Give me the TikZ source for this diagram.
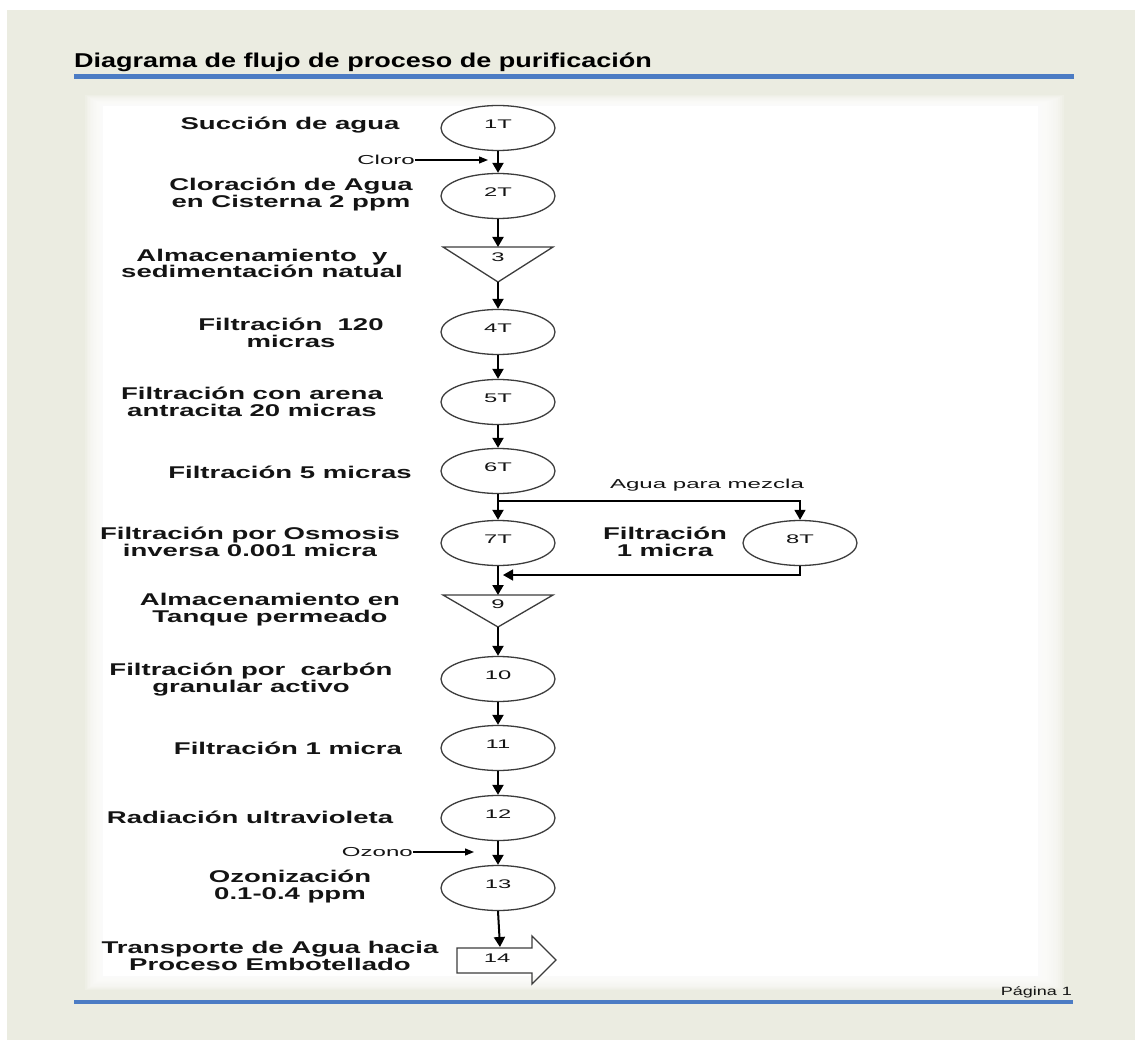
\documentclass[tikz,border=0pt]{standalone}
\usepackage{fontspec}
\setmainfont{Liberation Sans}
\newfontfamily\titlefont[FakeStretch=1.35]{Liberation Sans}
\newfontfamily\stepfont[FakeStretch=1.62]{Liberation Sans}
\newfontfamily\notefont[FakeStretch=1.85]{Liberation Sans}
\newfontfamily\numfont[FakeStretch=1.9]{Liberation Sans}
\newfontfamily\pagefont[FakeStretch=1.5]{Liberation Sans}
\usetikzlibrary{arrows.meta,shapes.geometric}

\definecolor{pagebg}{RGB}{235,236,225}
\definecolor{rulebl}{RGB}{76,124,196}
\definecolor{ink}{RGB}{20,20,20}
\definecolor{shapeln}{RGB}{60,60,60}

\tikzset{
  proc/.style={ellipse, draw=shapeln, line width=1.3pt, minimum width=114pt,
    minimum height=45pt, inner sep=0pt},
  numlbl/.style={font=\numfont\fontsize{12.5}{13}\selectfont, text=ink, inner sep=0pt},
  stepl/.style={align=center, font=\stepfont\bfseries\fontsize{17}{16.8}\selectfont,
    text=ink, inner sep=0pt},
  note/.style={font=\notefont\fontsize{13}{14}\selectfont, text=ink, inner sep=0pt},
  flow/.style={draw=black, line width=2pt, -{Triangle[length=10pt,width=11pt]}},
  branch/.style={draw=black, line width=1.6pt, -{Triangle[length=10pt,width=11pt]}},
  feed/.style={draw=black, line width=1.2pt, -{Triangle[length=9pt,width=7pt]}},
  store/.style={draw=shapeln, line width=1.3pt, line join=miter},
}

\begin{document}
\begin{tikzpicture}[x=1pt,y=-1pt]
\useasboundingbox (0,0) rectangle (1135,1040);
% page background
\fill[white] (0,0) rectangle (1135,1040);
\fill[pagebg] (7,10) rectangle (1135,1040);

% white sheet with soft edges
\foreach \i in {1,...,12}
  \fill[white,opacity=0.18] (103-1.5*\i,106-0.9*\i) rectangle (1038+2.2*\i,976+1.2*\i);
\fill[white] (103,106) rectangle (1038,976);

% heading and rules
\node[anchor=base west, inner sep=0pt, text=black,
  font=\titlefont\bfseries\fontsize{20}{22}\selectfont] (title) at (74,68)
  {Diagrama de flujo de proceso de purificación};
\fill[rulebl] (74,74) rectangle (1074,79);
\fill[rulebl] (74,1000) rectangle (1073,1004);
\node[anchor=base east, inner sep=0pt, text=ink,
  font=\pagefont\fontsize{12}{13}\selectfont] (pg) at (1072,995) {Página 1};

% process circles
\node[proc] (p1) at (498,128) {};
\node[proc] (p2) at (498,196) {};
\node[proc] (p4) at (498,332) {};
\node[proc] (p5) at (498,402) {};
\node[proc] (p6) at (498,471) {};
\node[proc] (p7) at (498,543) {};
\node[proc] (p8) at (800,543) {};
\node[proc] (p10) at (498,679) {};
\node[proc] (p11) at (498,748) {};
\node[proc] (p12) at (498,818) {};
\node[proc] (p13) at (498,888) {};

\node[numlbl] (n1) at ([yshift=4pt]p1.center) {1T};
\node[numlbl] (n2) at ([yshift=4pt]p2.center) {2T};
\node[numlbl] (n4) at ([yshift=4pt]p4.center) {4T};
\node[numlbl] (n5) at ([yshift=4pt]p5.center) {5T};
\node[numlbl] (n6) at ([yshift=4pt]p6.center) {6T};
\node[numlbl] (n7) at ([yshift=4pt]p7.center) {7T};
\node[numlbl] (n8) at ([yshift=4pt]p8.center) {8T};
\node[numlbl] (n10) at ([yshift=4pt]p10.center) {10};
\node[numlbl] (n11) at ([yshift=4pt]p11.center) {11};
\node[numlbl] (n12) at ([yshift=4pt]p12.center) {12};
\node[numlbl] (n13) at ([yshift=4pt]p13.center) {13};

% storage triangles
\coordinate (t3n) at (498,247);
\coordinate (t3s) at (498,282);
\draw[store] (443,247) -- (553,247) -- (t3s) -- cycle;
\node[numlbl] (n3) at (498,257) {3};
\coordinate (t9n) at (498,595);
\coordinate (t9s) at (498,627);
\draw[store] (443,595) -- (553,595) -- (t9s) -- cycle;
\node[numlbl] (n9) at (498,604) {9};

% transport block arrow
\coordinate (t14n) at (500,947);
\draw[store] (457,948) -- (532,948) -- (532,936) -- (556,960) -- (532,984)
  -- (532,973) -- (457,973) -- cycle;
\node[numlbl] (n14) at (497,958) {14};

% step descriptions
\node[stepl] (l1) at (290,125) {Succión de agua};
\node[stepl] (l2) at (291,194.5) {Cloración de Agua\\en Cisterna 2 ppm};
\node[stepl] (l3) at (262,263.5) {Almacenamiento \ y\\sedimentación natual};
\node[stepl] (l4) at (291,332.5) {Filtración \ 120\\micras};
\node[stepl] (l5) at (252,401.5) {Filtración con arena\\antracita 20 micras};
\node[stepl] (l6) at (290,472) {Filtración 5 micras};
\node[stepl] (l7) at (250,541.5) {Filtración por Osmosis\\inversa 0.001 micra};
\node[stepl] (l8) at (665,541.5) {Filtración\\1 micra};
\node[stepl] (l9) at (270,609.5) {Almacenamiento en\\Tanque permeado};
\node[stepl] (l10) at (251,679.5) {Filtración por \ carbón\\granular activo};
\node[stepl] (l11) at (288,748) {Filtración 1 micra};
\node[stepl] (l12) at (250,817) {Radiación ultravioleta};
\node[stepl] (l13) at (290,886.5) {Ozonización\\0.1-0.4 ppm};
\node[stepl] (l14) at (270,956) {Transporte de Agua hacia\\Proceso Embotellado};

% additions
\node[note, anchor=east] (cloro) at (415,160) {Cloro};
\coordinate (cloroin) at (488,160);
\draw[feed] (cloro) -- (cloroin);
\node[note, anchor=east] (ozono) at (413,852) {Ozono};
\coordinate (ozonoin) at (474,852);
\draw[feed] (ozono) -- (ozonoin);
\node[note] (mix) at (707,485) {Agua para mezcla};

% main flow
\draw[flow] (p1.south) -- (p2.north);
\draw[flow] (p2.south) -- (t3n);
\draw[flow] (t3s) -- (p4.north);
\draw[flow] (p4.south) -- (p5.north);
\draw[flow] (p5.south) -- (p6.north);
\coordinate (split) at (498,501);
\draw[line width=2pt] (p6.south) -- (split);
\draw[flow] (split) -- (p7.north);
\draw[branch] (split) -| (p8.north);
\coordinate (merge) at (503,575);
\draw[branch] (p8.south) |- (merge);
\draw[flow] (p7.south) -- (t9n);
\draw[flow] (t9s) -- (p10.north);
\draw[flow] (p10.south) -- (p11.north);
\draw[flow] (p11.south) -- (p12.north);
\draw[flow] (p12.south) -- (p13.north);
\draw[flow] (p13.south) -- (t14n);
\end{tikzpicture}
\end{document}
